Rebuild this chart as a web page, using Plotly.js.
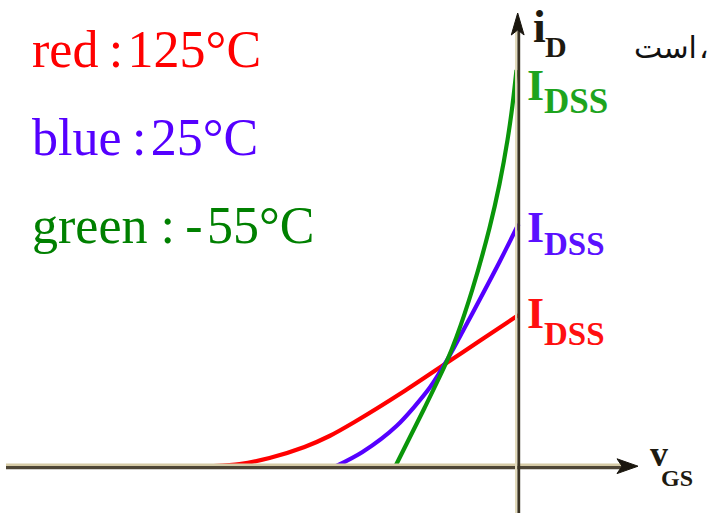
<!DOCTYPE html>
<html>
<head>
<meta charset="utf-8">
<script src="https://cdn.plot.ly/plotly-3.0.1.min.js"></script>
<style>
  html, body { margin: 0; padding: 0; background: #ffffff; }
  #chart { width: 713px; height: 513px; }
</style>
</head>
<body>
<div id="chart"></div>
<script>
// JFET transfer characteristic iD(vGS) at three junction temperatures
// (arbitrary units: vGS <= 0, iD >= 0; each curve ends at its own IDSS)

// 125 °C
const vgsRed = [-3.05, -2.79, -2.49, -2.14, -1.89, -1.64, -1.14, -0.72, -0.39, 0.00];
const idRed  = [ 0.00,  0.02,  0.08,  0.19,  0.30,  0.44,  0.75,  1.03,  1.25, 1.51];

// 25 °C
const vgsBlue = [-1.82, -1.56, -1.22, -0.89, -0.72, -0.54, -0.39, -0.19, 0.00];
const idBlue  = [ 0.00,  0.14,  0.40,  0.78,  1.05,  1.38,  1.66,  2.04, 2.42];

// -55 °C
const vgsGreen = [-1.23, -1.09, -0.94, -0.72, -0.62, -0.46, -0.29, -0.19, -0.11, -0.06, -0.02];
const idGreen  = [ 0.00,  0.28,  0.58,  1.04,  1.29,  1.77,  2.38,  2.82,  3.26,  3.61,  3.96];

const legendLines = ["red\u2009:\u200A125°C", "blue\u2009:\u200A25°C", "green :\u2009-\u200A55°C"];
const curveColors = ["#ff0000", "#5500ff", "#0a960a"];
const legendColors = ["#ff0000", "#5500ff", "#008000"];
const idssColors = ["#ff1010", "#5a10ff", "#1ea41e"];

const W = 713, H = 513;
const SERIF = "Liberation Serif, Times New Roman, serif";

// pixel -> paper helpers for text placement
const px = x => x / W;
const py = y => 1 - y / H;

function curve(x, y, color) {
  return {
    x: x, y: y, type: "scatter", mode: "lines",
    line: { color: color, width: 4.2, shape: "spline", smoothing: 0.8 },
    hoverinfo: "skip"
  };
}

const traces = [
  curve(vgsRed, idRed, curveColors[0]),
  curve(vgsBlue, idBlue, curveColors[1]),
  curve(vgsGreen, idGreen, curveColors[2])
];

// text label: left/right x in pixels, baseline y in pixels
function label(text, x, baseline, size, color, opts) {
  opts = opts || {};
  const asc = opts.asc !== undefined ? opts.asc : 0.3375;
  return {
    text: text, showarrow: false,
    xref: "paper", yref: "paper",
    x: px(x), y: py(baseline - asc * size),
    xanchor: opts.xanchor || "left", yanchor: "middle",
    font: { family: opts.family || SERIF, size: size, color: color,
            weight: opts.bold ? "bold" : "normal" }
  };
}

const annotations = [];
// temperature key
const keyBaselines = [67, 155, 243];
legendLines.forEach((t, i) => {
  annotations.push(label(t, 30, keyBaselines[i], 52, legendColors[i]));
});

// IDSS markers next to each curve end
const idssI = [328, 242, 100];
const idssSub = [345, 255, 113];
const idssSubSize = [33, 33, 35];
for (let i = 0; i < 3; i++) {
  annotations.push(label("I", 525, idssI[i], 44, idssColors[i], { bold: true }));
  annotations.push(label("DSS", 542, idssSub[i], idssSubSize[i], idssColors[i], { bold: true }));
}

// axis names
const axisInk = "#1e1a10";
annotations.push(label("i", 531, 42, 46, axisInk, { bold: true }));
annotations.push(label("D", 543, 57, 30, axisInk, { bold: true }));
annotations.push(label("v", 648, 466, 36, axisInk, { bold: true }));
annotations.push(label("GS", 659, 486, 24, axisInk, { bold: true }));

// running text beside the figure: word, then the Arabic comma on its right
const ARABIC = "DejaVu Sans, sans-serif";
annotations.push(label("است", 699, 58, 30, "#111111",
  { family: ARABIC, xanchor: "right", asc: 0.346 }));
annotations.push(label("،", 697, 58, 30, "#111111",
  { family: ARABIC, asc: 0.346 }));

// axes: two-tone rules with filled arrowheads (1 data unit = 100 px)
const shapes = [
  { type: "line", xref: "x", yref: "y", x0: -5.125, x1: 1.07, y0: 0.013, y1: 0.013,
    line: { color: "#d6cba6", width: 2.6 }, layer: "above" },
  { type: "line", xref: "x", yref: "y", x0: -5.125, x1: 1.07, y0: -0.017, y1: -0.017,
    line: { color: "#4e4636", width: 3.2 }, layer: "above" },
  { type: "line", xref: "x", yref: "y", x0: -0.023, x1: -0.023, y0: -0.47, y1: 4.40,
    line: { color: "#e2dabb", width: 2.4 }, layer: "above" },
  { type: "line", xref: "x", yref: "y", x0: 0.003, x1: 0.003, y0: -0.47, y1: 4.40,
    line: { color: "#3a3324", width: 2.8 }, layer: "above" },
  { type: "path", xref: "x", yref: "y", layer: "above",
    path: "M 1.195 -0.002 L 0.985 0.072 L 1.035 -0.002 L 0.985 -0.076 Z",
    fillcolor: "#1a160e", line: { color: "#1a160e", width: 1 } },
  { type: "path", xref: "x", yref: "y", layer: "above",
    path: "M -0.008 4.53 L -0.072 4.31 L -0.008 4.36 L 0.056 4.31 Z",
    fillcolor: "#1a160e", line: { color: "#1a160e", width: 1 } }
];

const layout = {
  width: W, height: H,
  margin: { l: 0, r: 0, t: 0, b: 0, pad: 0 },
  paper_bgcolor: "#ffffff", plot_bgcolor: "#ffffff",
  showlegend: false,
  xaxis: { range: [-5.185, 1.945], visible: false, fixedrange: true },
  yaxis: { range: [-0.47, 4.66], visible: false, fixedrange: true },
  shapes: shapes,
  annotations: annotations
};

Plotly.newPlot("chart", traces, layout, { staticPlot: true, displayModeBar: false });
</script>
</body>
</html>
